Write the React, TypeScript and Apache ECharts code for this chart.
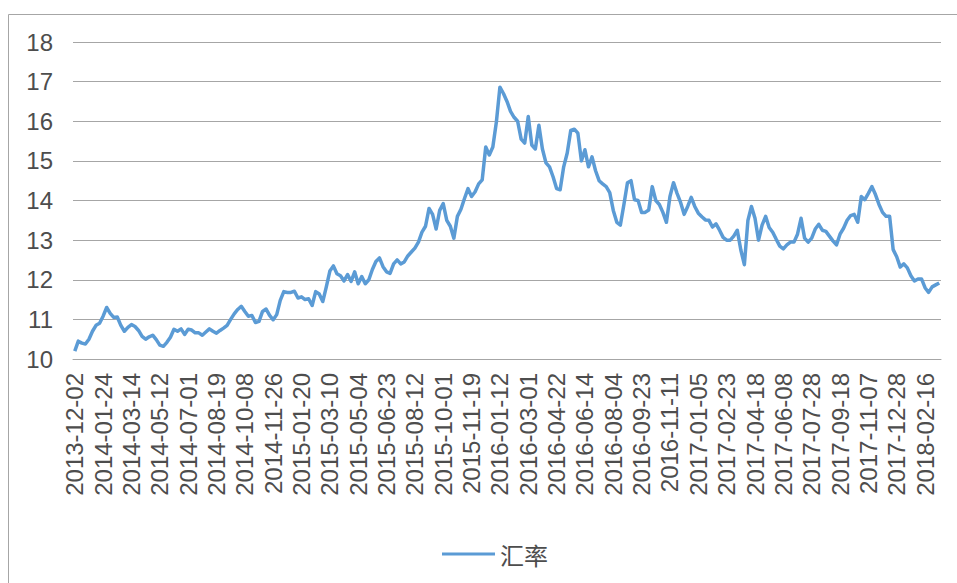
import React, { useEffect, useRef } from "react";
import * as echarts from "echarts";

const tickLabels = [
  "2013-12-02", "2014-01-24", "2014-03-14", "2014-05-12", "2014-07-01", "2014-08-19",
  "2014-10-08", "2014-11-26", "2015-01-20", "2015-03-10", "2015-05-04", "2015-06-23",
  "2015-08-12", "2015-10-01", "2015-11-19", "2016-01-12", "2016-03-01", "2016-04-22",
  "2016-06-14", "2016-08-04", "2016-09-23", "2016-11-11", "2017-01-05", "2017-02-23",
  "2017-04-18", "2017-06-08", "2017-07-28", "2017-09-18", "2017-11-07", "2017-12-28",
  "2018-02-16",
];

const pointsPerTick = 8;

const rateValues = [
  10.2, 10.45, 10.4, 10.38, 10.5, 10.7, 10.85, 10.9,
  11.08, 11.3, 11.15, 11.05, 11.06, 10.85, 10.7, 10.8,
  10.87, 10.82, 10.72, 10.57, 10.5, 10.56, 10.6, 10.49,
  10.35, 10.32, 10.42, 10.55, 10.75, 10.7, 10.76, 10.62,
  10.75, 10.73, 10.66, 10.66, 10.6, 10.68, 10.76, 10.7,
  10.65, 10.72, 10.78, 10.85, 11.0, 11.14, 11.25, 11.33,
  11.2, 11.08, 11.1, 10.92, 10.95, 11.2, 11.26, 11.1,
  10.99, 11.12, 11.48, 11.7, 11.68, 11.68, 11.71, 11.54,
  11.57, 11.5, 11.52, 11.35, 11.7, 11.64, 11.45, 11.82,
  12.22, 12.35, 12.15, 12.1, 11.97, 12.13, 11.96, 12.2,
  11.9, 12.08, 11.9, 12.0, 12.26, 12.46, 12.55, 12.33,
  12.2, 12.16, 12.4, 12.5, 12.4, 12.45, 12.6, 12.7,
  12.8, 12.95, 13.2, 13.35, 13.8, 13.65, 13.28, 13.75,
  13.92, 13.5, 13.35, 13.05, 13.6, 13.78, 14.05, 14.3,
  14.1, 14.22, 14.42, 14.52, 15.35, 15.15, 15.35, 15.98,
  16.86, 16.7, 16.5, 16.25, 16.1, 16.0, 15.55, 15.45,
  16.12, 15.4, 15.3, 15.9, 15.3, 14.95, 14.85, 14.6,
  14.3, 14.27, 14.85, 15.2, 15.77, 15.8, 15.7, 15.0,
  15.28, 14.85, 15.1, 14.75, 14.5, 14.42, 14.35, 14.2,
  13.75, 13.45, 13.38, 13.9, 14.45, 14.5, 14.02, 14.0,
  13.7, 13.7, 13.76, 14.35, 14.0, 13.9, 13.7, 13.45,
  14.1, 14.45, 14.18, 13.95, 13.65, 13.85, 14.08, 13.85,
  13.68, 13.59, 13.51, 13.5, 13.33, 13.41, 13.25, 13.07,
  13.0, 13.0, 13.1, 13.25, 12.75, 12.38, 13.5, 13.85,
  13.55, 13.0, 13.38, 13.6, 13.32, 13.2, 13.02, 12.85,
  12.78, 12.88, 12.95, 12.95, 13.15, 13.55, 13.05, 12.95,
  13.05, 13.28, 13.4, 13.25, 13.22, 13.1, 12.98, 12.88,
  13.15, 13.3, 13.5, 13.62, 13.65, 13.45, 14.1, 14.02,
  14.18, 14.35, 14.15, 13.9, 13.7, 13.6, 13.6, 12.76,
  12.58, 12.32, 12.4, 12.3, 12.1, 11.97, 12.02, 12.02,
  11.8, 11.68, 11.82, 11.87, 11.92,
];

const seriesName = "汇率";

const categories = rateValues.map((_, i) =>
  i % pointsPerTick === 0 ? tickLabels[i / pointsPerTick] ?? "" : ""
);

export default function App() {
  const ref = useRef<HTMLDivElement>(null);
  useEffect(() => {
    if (!ref.current) return;
    const chart = echarts.init(ref.current, undefined, { renderer: "svg" });
    const textColor = "#4d4d4d";
    const font = "'Liberation Sans', Arial, 'Noto Sans CJK SC', sans-serif";
    chart.setOption({
      animation: false,
      backgroundColor: "#ffffff",
      textStyle: { fontFamily: font },
      graphic: [
        {
          type: "rect",
          shape: { x: 8.5, y: 14.5, width: 1000, height: 600 },
          style: { fill: "none", stroke: "#a6a6a6", lineWidth: 1 },
          silent: true,
        },
      ],
      grid: { left: 73, right: 16, top: 42, bottom: 224, containLabel: false },
      legend: {
        data: [seriesName],
        left: 437,
        top: 537,
        icon: "rect",
        itemWidth: 53,
        itemHeight: 3,
        textStyle: {
          color: textColor,
          fontSize: 24,
          fontFamily: "'Noto Sans CJK SC', sans-serif",
        },
      },
      xAxis: {
        type: "category",
        data: categories,
        boundaryGap: true,
        axisLine: { show: true, lineStyle: { color: "#a6a6a6", width: 1 } },
        axisTick: { show: false },
        axisLabel: {
          interval: pointsPerTick - 1,
          rotate: 90,
          margin: 14,
          fontSize: 24,
          color: textColor,
          fontFamily: font,
        },
      },
      yAxis: {
        type: "value",
        min: 10,
        max: 18,
        interval: 1,
        axisLine: { show: false },
        axisTick: { show: false },
        axisLabel: { fontSize: 24, color: textColor, margin: 20, fontFamily: font },
        splitLine: { lineStyle: { color: "#a6a6a6", width: 1 } },
      },
      series: [
        {
          name: seriesName,
          type: "line",
          data: rateValues,
          symbol: "none",
          lineStyle: { color: "#5b9bd5", width: 3.5, join: "round" },
          itemStyle: { color: "#5b9bd5" },
        },
      ],
    });
    return () => chart.dispose();
  }, []);
  return (
    <div
      ref={ref}
      style={{ position: "fixed", left: 0, top: 0, width: 957, height: 583 }}
    />
  );
}
